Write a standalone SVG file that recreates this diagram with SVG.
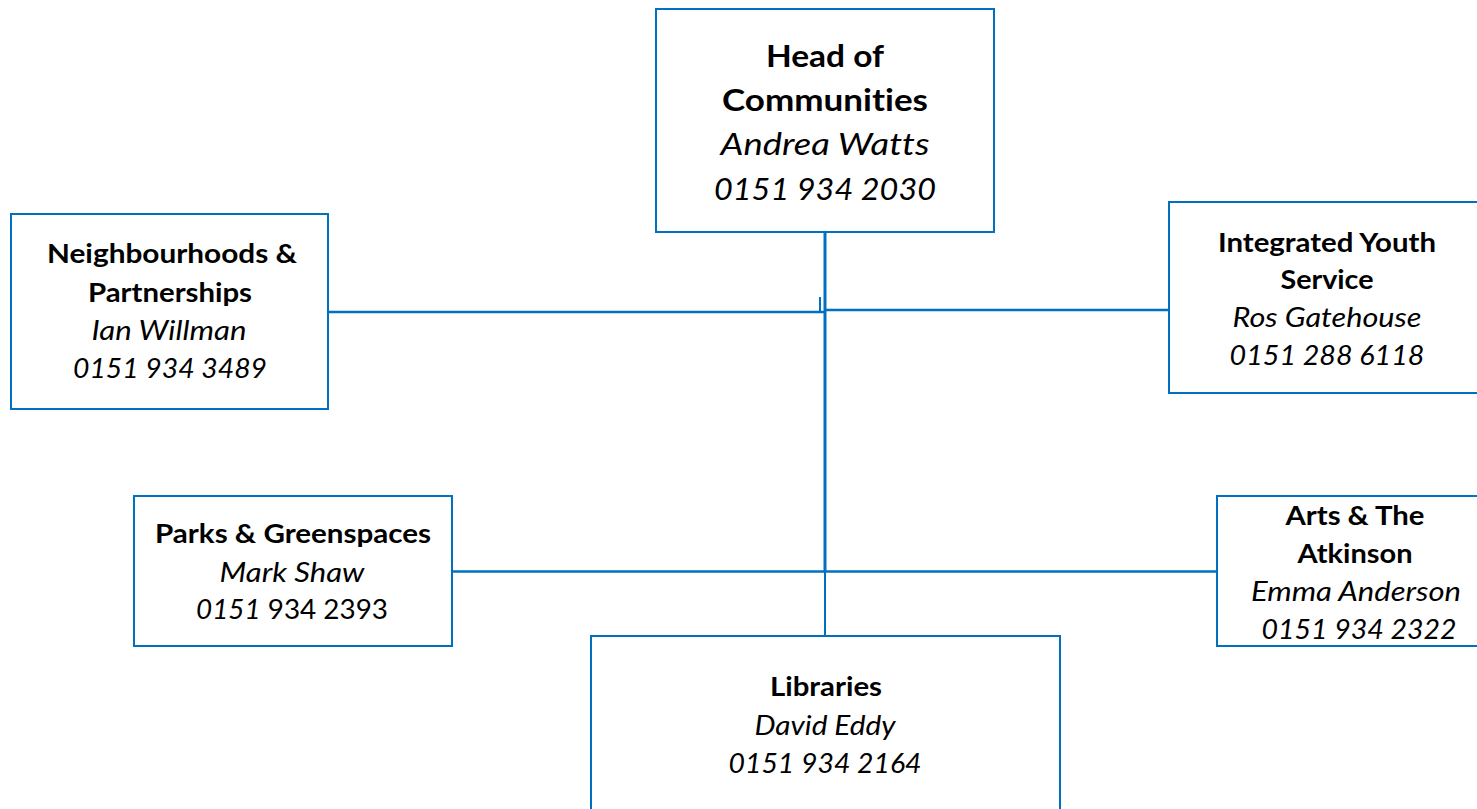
<svg xmlns="http://www.w3.org/2000/svg" width="1477" height="809" viewBox="0 0 1477 809">
<style>
.box{fill:#ffffff;stroke:#0070c0;stroke-width:2}
.ln{stroke:#0070c0;fill:none}
text{font-family:Lato,"Open Sans","Liberation Sans",sans-serif;fill:#000;text-anchor:middle;font-variant-ligatures:none;font-feature-settings:"liga" 0,"clig" 0}
.t{font-weight:bold;font-size:27px}
.n{font-style:italic;font-size:27px}
.T{font-weight:bold;font-size:30px}
.N{font-style:italic;font-size:30px}
</style>
<rect x="0" y="0" width="1477" height="809" fill="#ffffff"/>
<g id="connectors">
<path class="ln" stroke-width="3" d="M825,232 V571"/>
<path class="ln" stroke-width="2" d="M825,571 V636"/>
<path class="ln" stroke-width="2.5" d="M329,312 H824"/>
<path class="ln" stroke-width="2" d="M820,297 V312"/>
<path class="ln" stroke-width="2.5" d="M825,310 H1169"/>
<path class="ln" stroke-width="2.5" d="M452,571.5 H1217"/>
</g>
<g id="head">
<rect class="box" x="656" y="9" width="338" height="223"/>
<text class="T" x="825" y="67" textLength="118" lengthAdjust="spacingAndGlyphs">Head of</text>
<text class="T" x="825" y="111" textLength="206" lengthAdjust="spacingAndGlyphs">Communities</text>
<text class="N" x="825" y="155" textLength="209" lengthAdjust="spacingAndGlyphs">Andrea Watts</text>
<text class="N" x="825" y="200" textLength="222" lengthAdjust="spacingAndGlyphs">0151 934 2030</text>
</g>
<g id="neighbourhoods">
<rect class="box" x="11" y="214" width="317" height="195"/>
<text class="t" x="172" y="263" textLength="250" lengthAdjust="spacingAndGlyphs">Neighbourhoods &amp;</text>
<text class="t" x="170" y="302" textLength="164" lengthAdjust="spacingAndGlyphs">Partnerships</text>
<text class="n" x="169" y="340" textLength="155" lengthAdjust="spacingAndGlyphs">Ian Willman</text>
<text class="n" x="170" y="378" textLength="194" lengthAdjust="spacingAndGlyphs">0151 934 3489</text>
</g>
<g id="youth">
<rect class="box" x="1169" y="202" width="310" height="191"/>
<text class="t" x="1327" y="252" textLength="218" lengthAdjust="spacingAndGlyphs">Integrated Youth</text>
<text class="t" x="1327" y="289" textLength="93" lengthAdjust="spacingAndGlyphs">Service</text>
<text class="n" x="1327" y="327" textLength="189" lengthAdjust="spacingAndGlyphs">Ros Gatehouse</text>
<text class="n" x="1327" y="365" textLength="195" lengthAdjust="spacingAndGlyphs">0151 288 6118</text>
</g>
<g id="parks">
<rect class="box" x="134" y="496" width="318" height="150"/>
<text class="t" x="293" y="543" textLength="276" lengthAdjust="spacingAndGlyphs">Parks &amp; Greenspaces</text>
<text class="n" x="292" y="582" textLength="145" lengthAdjust="spacingAndGlyphs">Mark Shaw</text>
<text class="n" x="292" y="619" textLength="192" lengthAdjust="spacingAndGlyphs">0151<tspan font-style="normal"> 934 2393</tspan></text>
</g>
<g id="arts">
<rect class="box" x="1217" y="496" width="262" height="150"/>
<text class="t" x="1355" y="525" textLength="139" lengthAdjust="spacingAndGlyphs">Arts &amp; The</text>
<text class="t" x="1355" y="563" textLength="115" lengthAdjust="spacingAndGlyphs">Atkinson</text>
<text class="n" x="1356" y="601" textLength="210" lengthAdjust="spacingAndGlyphs">Emma Anderson</text>
<text class="n" x="1359" y="639" textLength="195" lengthAdjust="spacingAndGlyphs">0151 934 2322</text>
</g>
<g id="libraries">
<rect class="box" x="591" y="636" width="469" height="190"/>
<text class="t" x="826" y="696" textLength="112" lengthAdjust="spacingAndGlyphs">Libraries</text>
<text class="n" x="825" y="735" textLength="141" lengthAdjust="spacingAndGlyphs">David Eddy</text>
<text class="n" x="825" y="773" textLength="193" lengthAdjust="spacingAndGlyphs">0151 934 2164</text>
</g>
</svg>
